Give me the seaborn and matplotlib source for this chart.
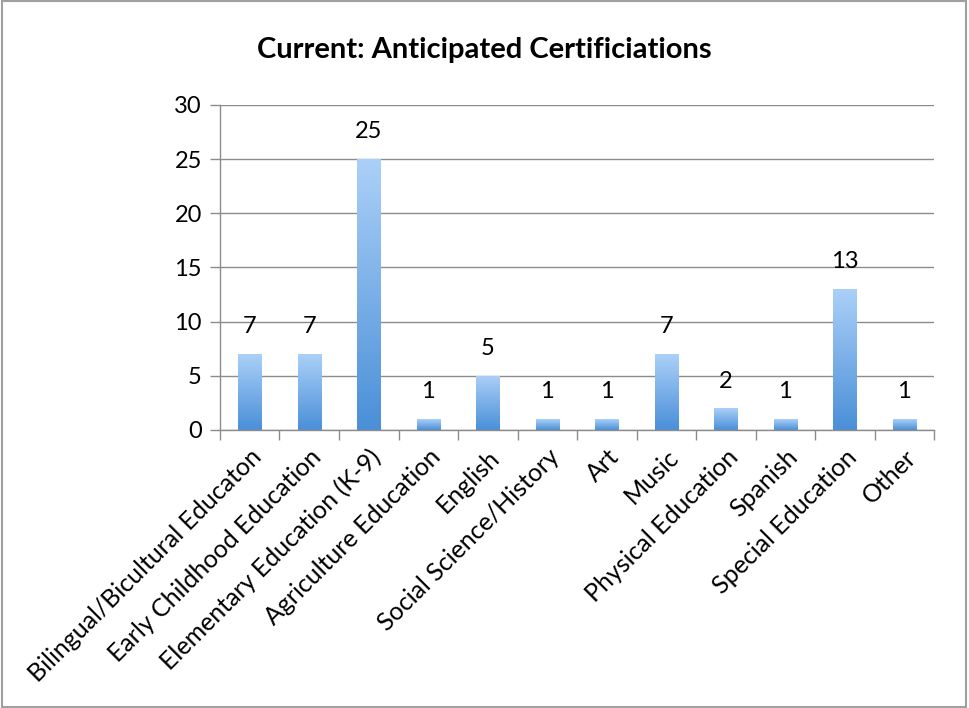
import matplotlib
matplotlib.use("Agg")
import matplotlib.pyplot as plt
import numpy as np
import pandas as pd
import seaborn as sns
from matplotlib.colors import LinearSegmentedColormap
from matplotlib.patches import Rectangle

categories = [
    "Bilingual/Bicultural Educaton",
    "Early Childhood Education",
    "Elementary Education (K-9)",
    "Agriculture Education",
    "English",
    "Social Science/History",
    "Art",
    "Music",
    "Physical Education",
    "Spanish",
    "Special Education",
    "Other",
]
counts = [7, 7, 25, 1, 5, 1, 1, 7, 2, 1, 13, 1]
y_ticks = [0, 5, 10, 15, 20, 25, 30]
title = "Current: Anticipated Certificiations"

sns.set_theme(style="white")
plt.rcParams["font.family"] = ["Lato", "DejaVu Sans"]
plt.rcParams["text.color"] = "black"
plt.rcParams["xtick.color"] = "black"
plt.rcParams["ytick.color"] = "black"

df = pd.DataFrame({"category": categories, "count": counts})

fig = plt.figure(figsize=(9.69, 7.08), dpi=100)
ax = fig.add_axes([0.227, 0.3927, 0.737, 0.459])

sns.barplot(data=df, x="category", y="count", ax=ax, width=0.39,
            color="#78aee8", saturation=1, edgecolor="none")

# vertical gradient fill for each bar
grad_cmap = LinearSegmentedColormap.from_list("bar", ["#4a8fd8", "#abd0f8"])
gradient = np.linspace(0, 1, 256).reshape(-1, 1)
for patch in ax.patches:
    x0, y0 = patch.get_x(), patch.get_y()
    w, h = patch.get_width(), patch.get_height()
    im = ax.imshow(gradient, cmap=grad_cmap, origin="lower", aspect="auto",
                   extent=[x0, x0 + w, y0, y0 + h], zorder=2)
    im.set_clip_path(patch)
    patch.set_facecolor("none")

ax.set_xlim(-0.5, len(categories) - 0.5)
ax.set_ylim(0, 30)
ax.set_yticks(y_ticks)
ax.set_yticklabels([str(t) for t in y_ticks], fontsize=17)
ax.yaxis.grid(True, color="#8c8c8c", linewidth=1.0)
ax.set_axisbelow(True)

ax.set_xticks(range(len(categories)))
ax.set_xticklabels(categories, rotation=45, ha="right", rotation_mode="anchor",
                   fontsize=18)
ax.set_xticks(np.arange(-0.5, len(categories), 1.0), minor=True)
ax.tick_params(axis="x", which="major", length=0, pad=11)
ax.tick_params(axis="x", which="minor", length=7, width=1, color="#8c8c8c",
               direction="out", bottom=True)
ax.tick_params(axis="y", length=7, width=1, color="#8c8c8c", labelcolor="black",
               direction="out", left=True, pad=6)

ax.set_xlabel("")
ax.set_ylabel("")
for side in ["top", "right"]:
    ax.spines[side].set_visible(False)
for side in ["left", "bottom"]:
    ax.spines[side].set_color("#8c8c8c")
    ax.spines[side].set_linewidth(1.0)

for i, v in enumerate(counts):
    ax.annotate(str(v), (i, v), xytext=(0, 12), textcoords="offset points",
                ha="center", va="bottom", fontsize=17, color="black")

fig.text(0.5, 0.930, title, ha="center", va="center", fontsize=21,
         fontweight="bold")

fig.patches.append(Rectangle((0.002, 0.001), 0.995, 0.997,
                             transform=fig.transFigure, fill=False,
                             edgecolor="#a0a0a0", linewidth=1.5))

fig.savefig("out.png", dpi=100)
